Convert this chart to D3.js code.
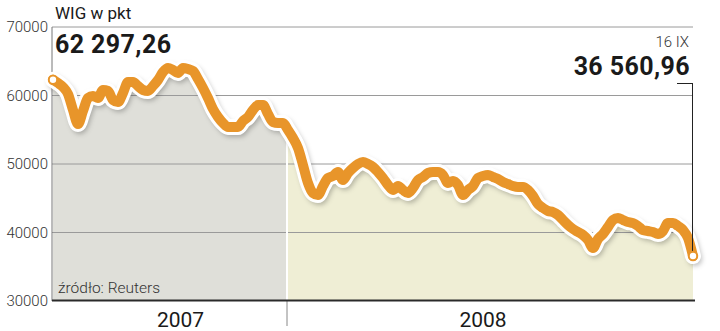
<!DOCTYPE html>
<html><head><meta charset="utf-8">
<script src="https://cdn.jsdelivr.net/npm/d3@7"></script>
<style>
html,body{margin:0;padding:0;background:#fff;}
svg{display:block;}
</style></head>
<body>
<svg id="c" width="720" height="331"></svg>
<script>
// WIG index, daily-ish samples from 16 IX 2007 to 16 IX 2008
const wigValues = [62297,61824,61240,60218,57882,55838,57736,59634,59926,59634,
60802,60656,59342,59050,60364,61970,61970,61386,60802,60656,
61386,62262,63430,64014,63722,63284,64014,63868,63576,62408,
61094,59634,58028,56860,55984,55400,55400,55400,56276,56860,
57882,58612,58612,57298,56130,55984,55984,54962,53794,52334,
49852,47224,45764,45472,46786,47954,48246,48830,47662,48684,
49414,49998,50290,49998,49560,48830,47954,46932,46202,46786,
46202,45764,46494,47662,48100,48684,48830,48830,48392,47224,
47516,46932,45472,46202,46786,47954,48246,48392,48100,47808,
47370,47078,46786,46640,46640,46202,45326,44158,43574,43136,
42990,42552,41822,41092,40508,40070,39632,38902,37734,39048,
39778,40800,41822,42114,41822,41530,41384,40946,40362,40216,
40070,39778,40216,41384,41384,40946,40362,39194,36561];
const yearLabels = ["2007","2008"];
const yearBreakIndex = 46.8; // first session of 2008
const yTicks = [30000,40000,50000,60000,70000];
const titleText = "WIG w pkt";
const startLabel = "62 297,26";
const endDateLabel = "16 IX";
const endLabel = "36 560,96";
const sourceText = "źródło: Reuters";

const svg = d3.select("#c");
const L = 52, R = 693, T = 27, B = 301;
const x = d3.scaleLinear().domain([0, wigValues.length-1]).range([L+1, R]);
const y = d3.scaleLinear().domain([30000,70000]).range([B, T]);
const xb = x(yearBreakIndex);

const defs = svg.append("defs");
const f = defs.append("filter").attr("id","sh").attr("x","-10%").attr("y","-10%").attr("width","120%").attr("height","130%");
f.append("feGaussianBlur").attr("stdDeviation",2.5);
defs.append("clipPath").attr("id","c07").append("rect").attr("x",L).attr("y",0).attr("width",xb-L).attr("height",B);
defs.append("clipPath").attr("id","c08").append("rect").attr("x",xb).attr("y",0).attr("width",R+3-xb).attr("height",B);

const area = d3.area().x((d,i)=>x(i)).y0(y(30000)).y1(d=>y(d)).curve(d3.curveMonotoneX);
const line = d3.line().x((d,i)=>x(i)).y(d=>y(d)).curve(d3.curveMonotoneX);

svg.append("path").datum(wigValues).attr("d",area).attr("fill","#dfdfd9").attr("clip-path","url(#c07)");
svg.append("path").datum(wigValues).attr("d",area).attr("fill","#efeed5").attr("clip-path","url(#c08)");

// gridlines
svg.append("g").selectAll("line").data(yTicks.filter(v=>v>30000)).join("line")
  .attr("x1",L).attr("x2",R).attr("y1",d=>y(d)).attr("y2",d=>y(d))
  .attr("stroke","#9a9a9a").attr("stroke-width",1);

// divider
svg.append("line").attr("x1",xb).attr("x2",xb).attr("y1",y(30000)-1).attr("y2",140).attr("stroke","#fff").attr("stroke-width",2);
svg.append("line").attr("x1",xb).attr("x2",xb).attr("y1",B).attr("y2",326).attr("stroke","#888").attr("stroke-width",1);

// left axis
svg.append("line").attr("x1",L).attr("x2",L).attr("y1",T).attr("y2",B).attr("stroke","#777").attr("stroke-width",1);

// tick labels
svg.append("g").selectAll("text").data(yTicks).join("text")
  .attr("x",48).attr("y",d=>y(d)+5).attr("text-anchor","end")
  .attr("font-family","Roboto").attr("font-weight",300).attr("font-size",15).attr("fill","#333")
  .text(d=>d);

// line with shadow + halo
svg.append("path").datum(wigValues).attr("d",line).attr("fill","none").attr("stroke","#000").attr("stroke-opacity",0.25)
  .attr("stroke-width",14).attr("stroke-linejoin","round").attr("stroke-linecap","round")
  .attr("transform","translate(2,3)").attr("filter","url(#sh)");
svg.append("path").datum(wigValues).attr("d",line).attr("fill","none").attr("stroke","#fff")
  .attr("stroke-width",16).attr("stroke-linejoin","round").attr("stroke-linecap","round");
svg.append("path").datum(wigValues).attr("d",line).attr("fill","none").attr("stroke","#e8952a")
  .attr("stroke-width",10).attr("stroke-linejoin","round").attr("stroke-linecap","round");

// baseline
svg.append("line").attr("x1",L).attr("x2",R+2).attr("y1",B-0.5).attr("y2",B-0.5).attr("stroke","#2a2a2a").attr("stroke-width",2);

// leader line for end label
const n = wigValues.length-1;
svg.append("line").attr("x1",677).attr("x2",x(n)).attr("y1",83.5).attr("y2",83.5).attr("stroke","#222").attr("stroke-width",1);
svg.append("line").attr("x1",x(n)-0.5).attr("x2",x(n)-0.5).attr("y1",83).attr("y2",y(wigValues[n])).attr("stroke","#222").attr("stroke-width",1);

// end markers
[[0,wigValues[0]],[n,wigValues[n]]].forEach(([i,v])=>{
  svg.append("circle").attr("cx",x(i)).attr("cy",y(v)).attr("r",4.2).attr("fill","#fff").attr("stroke","#e8952a").attr("stroke-width",2);
});

// texts
svg.append("text").attr("x",55).attr("y",19).attr("font-family","Roboto").attr("font-size",17).attr("fill","#1a1a1a").text(titleText);
svg.append("text").attr("x",55).attr("y",53).attr("font-family","Roboto").attr("font-weight",700).attr("font-size",25).attr("letter-spacing",0.4).attr("fill","#1a1a1a").text(startLabel);
svg.append("text").attr("x",689).attr("y",47).attr("text-anchor","end").attr("font-family","Roboto").attr("font-weight",300).attr("font-size",15).attr("fill","#333").text(endDateLabel);
svg.append("text").attr("x",690).attr("y",75).attr("text-anchor","end").attr("font-family","Roboto").attr("font-weight",700).attr("font-size",25).attr("letter-spacing",0.4).attr("fill","#1a1a1a").text(endLabel);
svg.append("text").attr("x",58).attr("y",293).attr("font-family","Roboto").attr("font-weight",300).attr("font-size",15.5).attr("fill","#333").text(sourceText);

const yearCenters = [(L+xb)/2+11, (xb+R)/2-7];
svg.append("g").selectAll("text").data(yearLabels).join("text")
  .attr("x",(d,i)=>yearCenters[i]).attr("y",327).attr("text-anchor","middle")
  .attr("font-family","Roboto").attr("font-size",21).attr("fill","#1a1a1a")
  .text(d=>d);
</script>
</body></html>
